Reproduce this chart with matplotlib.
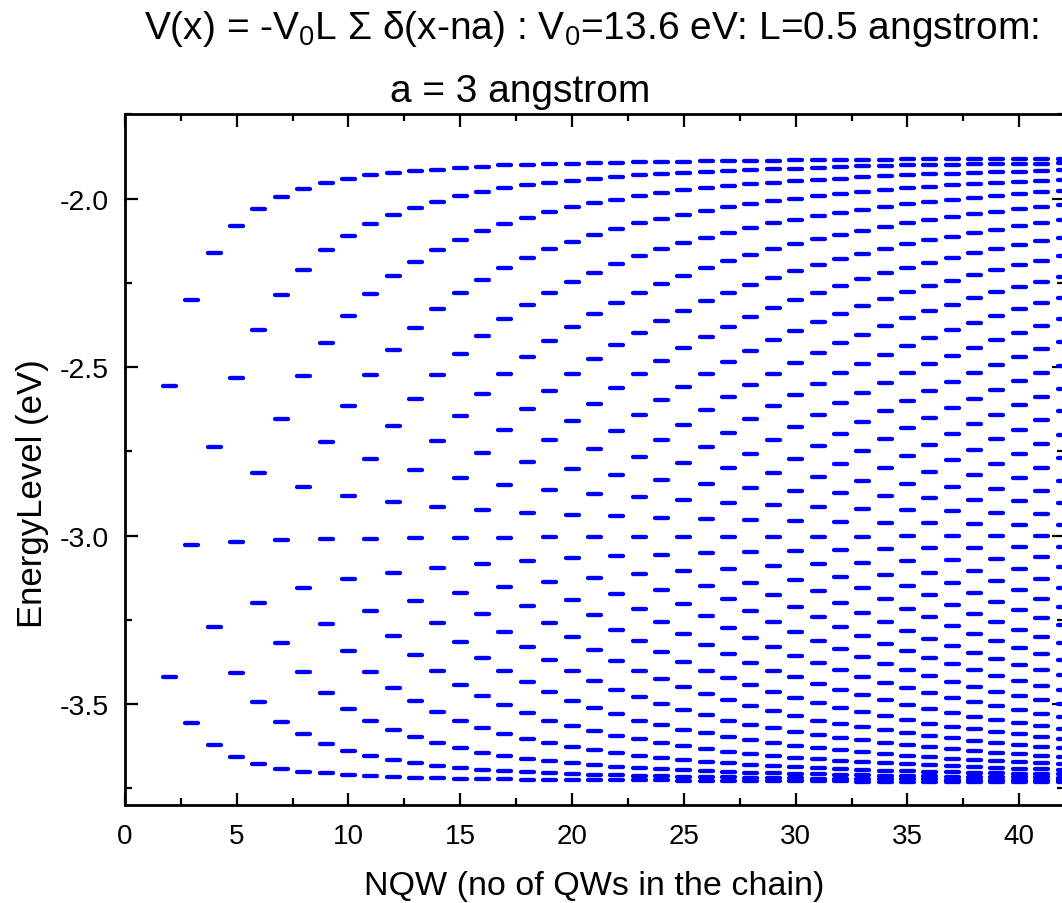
import matplotlib
matplotlib.use("Agg")
import matplotlib.pyplot as plt
from matplotlib.ticker import MultipleLocator, FormatStrFormatter

# Bound-state energies (eV) of a chain of NQW delta wells, one list per chain length
nqw = [2, 3, 4, 5, 6, 7, 8, 9, 10, 11, 12, 13, 14, 15, 16, 17, 18, 19, 20, 21,
       22, 23, 24, 25, 26, 27, 28, 29, 30, 31, 32, 33, 34, 35, 36, 37, 38, 39, 40, 41, 42]

levels_02 = [-3.420, -2.555]
levels_03 = [-3.555, -3.027, -2.301]
levels_04 = [-3.621, -3.271, -2.738, -2.163]
levels_05 = [-3.657, -3.409, -3.018, -2.534, -2.081]
levels_06 = [-3.678, -3.495, -3.199, -2.814, -2.390, -2.030]
levels_07 = [-3.692, -3.552, -3.320, -3.013, -2.653, -2.287, -1.996]
levels_08 = [-3.702, -3.590, -3.405, -3.156, -2.856, -2.528, -2.211, -1.971]
levels_09 = [-3.706, -3.618, -3.468, -3.263, -3.011, -2.724, -2.428, -2.154, -1.955]
levels_10 = [-3.711, -3.639, -3.515, -3.343, -3.130, -2.883, -2.615, -2.348, -2.111, -1.942]
levels_11 = [-3.714, -3.655, -3.551, -3.404, -3.223, -3.009, -2.772, -2.525, -2.283, -2.076,
             -1.931]
levels_12 = [-3.717, -3.667, -3.577, -3.453, -3.297, -3.110, -2.901, -2.676, -2.449, -2.231,
             -2.049, -1.924]
levels_13 = [-3.719, -3.676, -3.599, -3.491, -3.355, -3.193, -3.008, -2.805, -2.594, -2.383,
             -2.188, -2.027, -1.919]
levels_14 = [-3.720, -3.684, -3.617, -3.523, -3.403, -3.260, -3.095, -2.914, -2.720, -2.524,
             -2.328, -2.152, -2.009, -1.914]
levels_15 = [-3.722, -3.690, -3.632, -3.550, -3.443, -3.316, -3.170, -3.007, -2.830, -2.646,
             -2.461, -2.281, -2.122, -1.994, -1.910]
levels_16 = [-3.723, -3.696, -3.644, -3.570, -3.476, -3.363, -3.232, -3.084, -2.924, -2.754,
             -2.580, -2.407, -2.242, -2.097, -1.981, -1.906]
levels_17 = [-3.724, -3.700, -3.654, -3.588, -3.504, -3.402, -3.285, -3.152, -3.006, -2.850,
             -2.686, -2.522, -2.358, -2.207, -2.075, -1.969, -1.902]
levels_18 = [-3.725, -3.703, -3.662, -3.603, -3.528, -3.436, -3.330, -3.209, -3.075, -2.932,
             -2.781, -2.625, -2.470, -2.317, -2.178, -2.057, -1.961, -1.900]
levels_19 = [-3.725, -3.706, -3.670, -3.616, -3.549, -3.465, -3.368, -3.259, -3.137, -3.005,
             -2.865, -2.718, -2.570, -2.423, -2.280, -2.151, -2.040, -1.954, -1.899]
levels_20 = [-3.726, -3.708, -3.676, -3.628, -3.566, -3.490, -3.402, -3.302, -3.190, -3.068,
             -2.938, -2.802, -2.661, -2.521, -2.381, -2.249, -2.128, -2.026, -1.947, -1.897]
levels_21 = [-3.726, -3.710, -3.682, -3.637, -3.581, -3.512, -3.431, -3.339, -3.237, -3.125,
             -3.005, -2.877, -2.744, -2.610, -2.476, -2.343, -2.220, -2.108, -2.013, -1.941,
             -1.895]
levels_22 = [-3.727, -3.712, -3.686, -3.646, -3.594, -3.531, -3.457, -3.372, -3.279, -3.174,
             -3.062, -2.943, -2.820, -2.691, -2.563, -2.435, -2.310, -2.194, -2.090, -2.003,
             -1.936, -1.894]
levels_23 = [-3.727, -3.714, -3.690, -3.654, -3.605, -3.549, -3.479, -3.401, -3.314, -3.218,
             -3.114, -3.004, -2.887, -2.766, -2.643, -2.521, -2.398, -2.280, -2.171, -2.074,
             -1.993, -1.931, -1.893]
levels_24 = [-3.727, -3.715, -3.694, -3.660, -3.616, -3.563, -3.500, -3.427, -3.347, -3.258,
             -3.161, -3.057, -2.948, -2.835, -2.717, -2.599, -2.481, -2.363, -2.253, -2.150,
             -2.060, -1.985, -1.927, -1.892]
levels_25 = [-3.728, -3.716, -3.697, -3.666, -3.626, -3.576, -3.517, -3.450, -3.375, -3.293,
             -3.202, -3.106, -3.004, -2.896, -2.785, -2.671, -2.558, -2.444, -2.333, -2.229,
             -2.132, -2.048, -1.976, -1.924, -1.891]
levels_26 = [-3.728, -3.717, -3.700, -3.671, -3.633, -3.587, -3.534, -3.471, -3.401, -3.324,
             -3.240, -3.150, -3.053, -2.952, -2.848, -2.738, -2.629, -2.520, -2.411, -2.305,
             -2.206, -2.116, -2.036, -1.969, -1.921, -1.890]
levels_27 = [-3.728, -3.718, -3.702, -3.676, -3.641, -3.598, -3.549, -3.489, -3.424, -3.352,
             -3.274, -3.189, -3.098, -3.003, -2.903, -2.801, -2.695, -2.590, -2.485, -2.380,
             -2.279, -2.186, -2.101, -2.025, -1.963, -1.918, -1.889]
levels_28 = [-3.729, -3.719, -3.704, -3.680, -3.647, -3.607, -3.561, -3.506, -3.445, -3.377,
             -3.304, -3.224, -3.140, -3.049, -2.955, -2.858, -2.757, -2.655, -2.554, -2.452,
             -2.351, -2.256, -2.167, -2.087, -2.016, -1.958, -1.916, -1.888]
levels_29 = [-3.729, -3.720, -3.706, -3.684, -3.654, -3.616, -3.572, -3.521, -3.464, -3.401,
             -3.332, -3.257, -3.177, -3.091, -3.003, -2.910, -2.814, -2.716, -2.617, -2.520,
             -2.421, -2.325, -2.235, -2.150, -2.074, -2.008, -1.954, -1.913, -1.888]
levels_30 = [-3.729, -3.721, -3.707, -3.687, -3.659, -3.624, -3.582, -3.535, -3.481, -3.421,
             -3.357, -3.287, -3.211, -3.131, -3.046, -2.958, -2.867, -2.773, -2.678, -2.582,
             -2.488, -2.393, -2.301, -2.215, -2.134, -2.063, -2.000, -1.949, -1.911, -1.887]
levels_31 = [-3.729, -3.722, -3.709, -3.690, -3.663, -3.631, -3.592, -3.549, -3.497, -3.441,
             -3.379, -3.313, -3.242, -3.166, -3.086, -3.003, -2.915, -2.826, -2.734, -2.642,
             -2.550, -2.458, -2.366, -2.279, -2.197, -2.120, -2.052, -1.993, -1.945, -1.909,
             -1.886]
levels_32 = [-3.729, -3.722, -3.710, -3.693, -3.668, -3.637, -3.600, -3.559, -3.511, -3.459,
             -3.400, -3.338, -3.271, -3.199, -3.123, -3.043, -2.960, -2.875, -2.787, -2.698,
             -2.608, -2.519, -2.430, -2.342, -2.259, -2.180, -2.108, -2.043, -1.986, -1.941,
             -1.907, -1.886]
levels_33 = [-3.730, -3.723, -3.712, -3.695, -3.672, -3.643, -3.608, -3.569, -3.524, -3.474,
             -3.419, -3.360, -3.297, -3.229, -3.157, -3.081, -3.003, -2.920, -2.837, -2.750,
             -2.663, -2.577, -2.490, -2.404, -2.319, -2.240, -2.164, -2.095, -2.034, -1.980,
             -1.937, -1.905, -1.885]
levels_34 = [-3.730, -3.723, -3.713, -3.698, -3.676, -3.648, -3.616, -3.578, -3.537, -3.489,
             -3.437, -3.381, -3.321, -3.256, -3.188, -3.116, -3.040, -2.962, -2.882, -2.800,
             -2.715, -2.631, -2.547, -2.463, -2.379, -2.298, -2.222, -2.150, -2.084, -2.025,
             -1.974, -1.934, -1.904, -1.885]
levels_35 = [-3.730, -3.724, -3.714, -3.700, -3.679, -3.654, -3.623, -3.587, -3.548, -3.503,
             -3.454, -3.400, -3.343, -3.283, -3.217, -3.149, -3.076, -3.002, -2.924, -2.847,
             -2.765, -2.682, -2.600, -2.519, -2.437, -2.356, -2.278, -2.205, -2.136, -2.073,
             -2.017, -1.969, -1.930, -1.902, -1.884]
levels_36 = [-3.730, -3.724, -3.715, -3.702, -3.682, -3.658, -3.629, -3.595, -3.558, -3.515,
             -3.468, -3.418, -3.363, -3.306, -3.243, -3.178, -3.110, -3.038, -2.964, -2.889,
             -2.811, -2.731, -2.651, -2.572, -2.492, -2.413, -2.335, -2.261, -2.190, -2.124,
             -2.064, -2.010, -1.965, -1.928, -1.901, -1.884]
levels_37 = [-3.730, -3.725, -3.716, -3.703, -3.685, -3.662, -3.634, -3.602, -3.567, -3.527,
             -3.482, -3.434, -3.382, -3.327, -3.269, -3.206, -3.141, -3.072, -3.002, -2.928,
             -2.855, -2.777, -2.700, -2.622, -2.545, -2.467, -2.390, -2.315, -2.244, -2.176,
             -2.113, -2.055, -2.004, -1.961, -1.926, -1.900, -1.884]
levels_38 = [-3.730, -3.725, -3.716, -3.704, -3.688, -3.666, -3.639, -3.609, -3.575, -3.538,
             -3.495, -3.450, -3.400, -3.348, -3.292, -3.232, -3.170, -3.104, -3.036, -2.966,
             -2.894, -2.821, -2.745, -2.670, -2.594, -2.519, -2.443, -2.368, -2.296, -2.228,
             -2.162, -2.102, -2.047, -1.998, -1.957, -1.924, -1.899, -1.884]
levels_39 = [-3.730, -3.725, -3.717, -3.706, -3.690, -3.669, -3.644, -3.616, -3.583, -3.548,
             -3.507, -3.463, -3.416, -3.366, -3.313, -3.256, -3.196, -3.134, -3.069, -3.002,
             -2.932, -2.862, -2.789, -2.715, -2.641, -2.567, -2.494, -2.420, -2.348, -2.278,
             -2.212, -2.149, -2.092, -2.039, -1.993, -1.953, -1.922, -1.898, -1.884]
levels_40 = [-3.730, -3.725, -3.718, -3.707, -3.692, -3.672, -3.649, -3.622, -3.590, -3.557,
             -3.518, -3.476, -3.431, -3.383, -3.333, -3.279, -3.221, -3.162, -3.099, -3.034,
             -2.968, -2.899, -2.830, -2.758, -2.686, -2.614, -2.543, -2.471, -2.399, -2.329,
             -2.262, -2.198, -2.137, -2.082, -2.032, -1.987, -1.950, -1.920, -1.898, -1.884]
levels_41 = [-3.730, -3.726, -3.718, -3.708, -3.694, -3.676, -3.654, -3.627, -3.597, -3.565,
             -3.529, -3.489, -3.446, -3.400, -3.351, -3.300, -3.245, -3.188, -3.128, -3.065,
             -3.002, -2.935, -2.868, -2.799, -2.729, -2.658, -2.588, -2.519, -2.448, -2.378,
             -2.311, -2.247, -2.185, -2.127, -2.073, -2.025, -1.982, -1.947, -1.918, -1.897,
             -1.883]
levels_42 = [-3.730, -3.726, -3.719, -3.709, -3.696, -3.679, -3.657, -3.632, -3.603, -3.573,
             -3.539, -3.500, -3.459, -3.415, -3.368, -3.319, -3.267, -3.212, -3.155, -3.094,
             -3.033, -2.969, -2.904, -2.838, -2.770, -2.701, -2.632, -2.564, -2.496, -2.427,
             -2.359, -2.294, -2.232, -2.172, -2.117, -2.065, -2.018, -1.977, -1.944, -1.916,
             -1.896, -1.883]

all_levels = [levels_02, levels_03, levels_04, levels_05, levels_06, levels_07, levels_08,
              levels_09, levels_10, levels_11, levels_12, levels_13, levels_14, levels_15,
              levels_16, levels_17, levels_18, levels_19, levels_20, levels_21, levels_22,
              levels_23, levels_24, levels_25, levels_26, levels_27, levels_28, levels_29,
              levels_30, levels_31, levels_32, levels_33, levels_34, levels_35, levels_36,
              levels_37, levels_38, levels_39, levels_40, levels_41, levels_42]

plt.rcParams['font.family'] = ['Liberation Sans', 'DejaVu Sans']
plt.rcParams['mathtext.fontset'] = 'custom'
plt.rcParams['mathtext.rm'] = 'Liberation Sans'
plt.rcParams['mathtext.it'] = 'Liberation Sans'
plt.rcParams['mathtext.default'] = 'regular'
plt.rcParams['axes.unicode_minus'] = False

fig = plt.figure(figsize=(10.62, 9.04), dpi=100)
# the right edge of the frame sits just past the canvas
ax = fig.add_axes([0.1175, 0.1083, 0.8844, 0.7642])

# each level is drawn as a short horizontal dash centred on its chain length
half_dash = 0.29
for n, levels in zip(nqw, all_levels):
    ax.hlines(levels, n - half_dash, n + half_dash, colors='#0000ff',
              linewidth=3.1, capstyle='round')

ax.set_xlim(0, 42)
ax.set_ylim(-3.8, -1.75)
ax.xaxis.set_major_locator(MultipleLocator(5))
ax.xaxis.set_minor_locator(MultipleLocator(2.5))
ax.yaxis.set_major_locator(MultipleLocator(0.5))
ax.yaxis.set_minor_locator(MultipleLocator(0.25))
ax.yaxis.set_major_formatter(FormatStrFormatter('%.1f'))

for side in ax.spines.values():
    side.set_linewidth(2.0)
ax.tick_params(which='both', direction='in', top=True, right=True, width=1.6)
ax.tick_params(which='major', length=9)
ax.tick_params(which='minor', length=5)
ax.tick_params(axis='x', labelsize=20, pad=13)
ax.tick_params(axis='y', labelsize=20.5, pad=11.5)

ax.set_xlabel('NQW (no of QWs in the chain)', fontsize=24.5)
ax.xaxis.set_label_coords(0.5, -0.094)
ax.set_ylabel('EnergyLevel (eV)', fontsize=25)
ax.yaxis.set_label_coords(-0.0807, 0.452)

fig.text(0.5574, 0.9569,
         r'V(x) = -V$_0$L Σ δ(x-na) : V$_0$=13.6 eV: L=0.5 angstrom:',
         ha='center', va='baseline', fontsize=28)
fig.text(0.4896, 0.8872, 'a = 3 angstrom', ha='center', va='baseline', fontsize=28)

fig.savefig('out.png', dpi=100)
